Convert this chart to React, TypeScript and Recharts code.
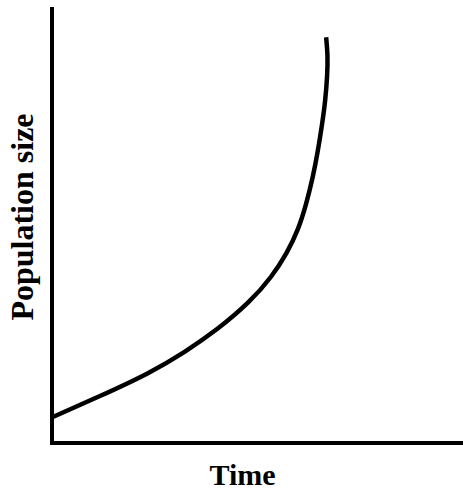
import { LineChart, Line, XAxis, YAxis } from 'recharts'

// time 0..10 across the plot, population 0..100 up the plot
const time = [0.02, 1.17, 2.38, 3.24, 4.01, 4.82, 5.35, 5.72, 5.99, 6.18, 6.35, 6.47, 6.57, 6.65, 6.7, 6.71, 6.67]
const population = [6, 10.8, 16.1, 21, 26, 32.5, 38.3, 43.8, 49.1, 54.8, 61.3, 67.3, 73.3, 78.8, 84.8, 89.4, 93.5]

const data = time.map((t, i) => ({ time: t, population: population[i] }))

const serif = '"Liberation Serif", "Times New Roman", serif'

function TimeLabel({ viewBox }: any) {
  const { x, y, width } = viewBox
  return (
    <text x={x + width / 2 - 15} y={y + 42} textAnchor="middle"
      fontFamily={serif} fontWeight="bold" fontSize={30} fill="#000">
      Time
    </text>
  )
}

function PopLabel({ viewBox }: any) {
  const { x, y, height } = viewBox
  const cx = x + 33
  const cy = y + height / 2 - 9
  return (
    <text x={cx} y={cy} transform={`rotate(-90 ${cx} ${cy})`} textAnchor="middle"
      fontFamily={serif} fontWeight="bold" fontSize={32} fill="#000">
      Population size
    </text>
  )
}

export default function App() {
  return (
    <div style={{ position: 'absolute', left: 0, top: 0, background: '#fff' }}>
      <LineChart width={463} height={491} data={data} margin={{ top: 9, right: 0, bottom: 0, left: 0 }}>
        <XAxis
          dataKey="time"
          type="number"
          domain={[0, 10]}
          tick={false}
          tickLine={false}
          height={48}
          axisLine={{ stroke: '#000', strokeWidth: 4, strokeLinecap: 'square' }}
          label={<TimeLabel />}
        />
        <YAxis
          type="number"
          domain={[0, 100]}
          tick={false}
          tickLine={false}
          width={52}
          axisLine={{ stroke: '#000', strokeWidth: 4, strokeLinecap: 'square' }}
          label={<PopLabel />}
        />
        {/* basis smooths the hand-read points into one even arc */}
        <Line
          dataKey="population"
          type="basis"
          stroke="#000"
          strokeWidth={4.5}
          dot={false}
          activeDot={false}
          isAnimationActive={false}
        />
      </LineChart>
    </div>
  )
}
